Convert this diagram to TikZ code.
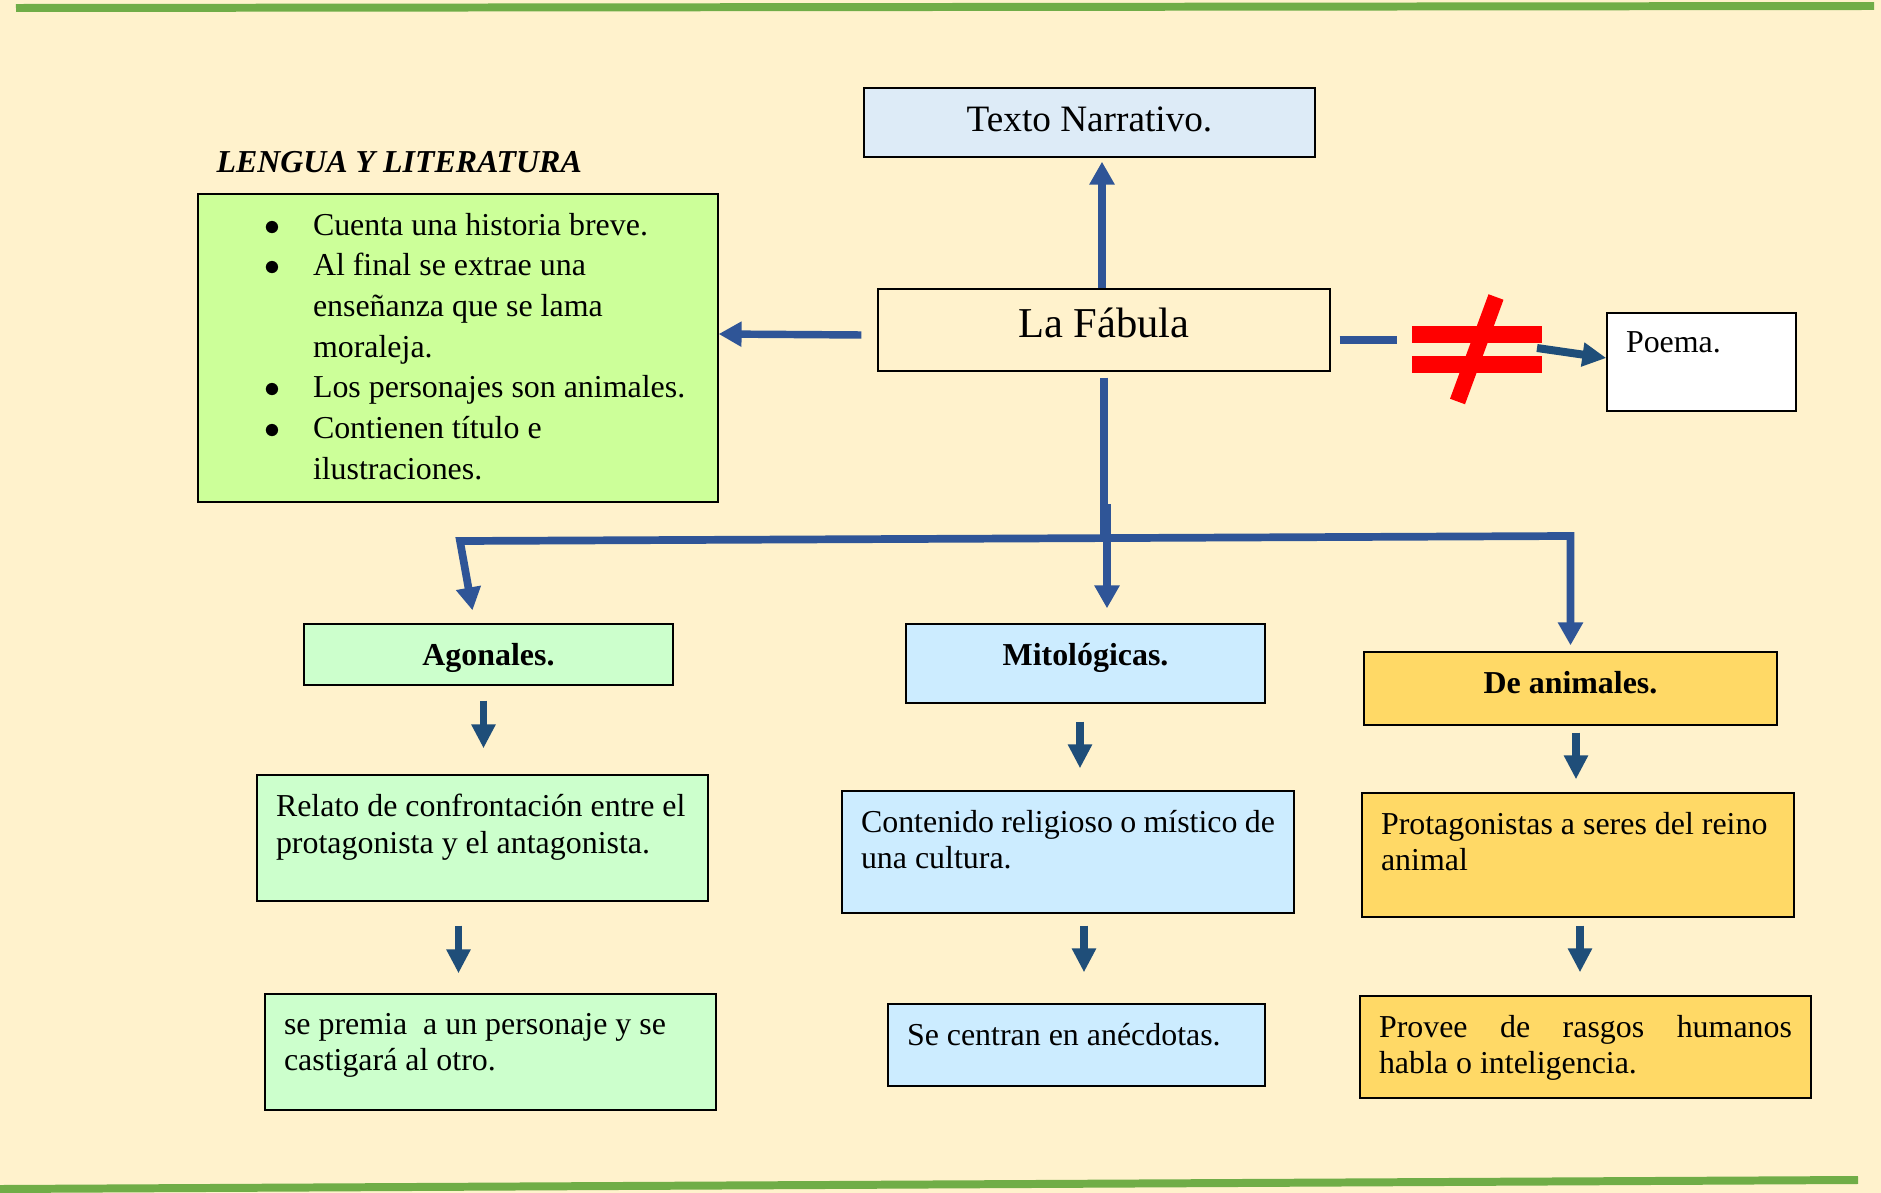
\documentclass[tikz,border=0pt]{standalone}
\usepackage{fontspec}
\setmainfont{Liberation Serif}
\usepackage{tikz}
\usetikzlibrary{arrows.meta}

\newlength{\pxu}
\setlength{\pxu}{0.376pt}
\newcommand{\caja}[3]{\parbox[c][#2\pxu][t]{#1\pxu}{#3}}
\newcommand{\vineta}{$\bullet$}

\definecolor{fondo}{HTML}{FFF2CC}
\definecolor{verdelinea}{HTML}{70AD47}
\definecolor{verdelista}{HTML}{CCFF99}
\definecolor{verdeclaro}{HTML}{CCFFCC}
\definecolor{celeste}{HTML}{CCECFF}
\definecolor{celestetit}{HTML}{DDEBF7}
\definecolor{amarillo}{HTML}{FFD966}
\definecolor{azul}{HTML}{2F5597}
\definecolor{azulosc}{HTML}{1F4E79}
\definecolor{rojo}{HTML}{FF0000}

\tikzset{
  caja/.style={draw=black, line width=0.6pt, inner sep=7.1pt},
  normal/.style={font=\fontsize{12}{13.8}\selectfont},
  negrita/.style={font=\fontsize{12}{13.8}\selectfont\bfseries},
  flecha/.style={draw=azul, line width=2.8pt, line join=miter, -{Triangle[width=9pt,length=8.6pt]}},
  flechados/.style={draw=azul, line width=2.9pt, line join=miter, {Triangle[width=9pt,length=8.6pt]}-{Triangle[width=9pt,length=8.6pt]}},
  flechaosc/.style={draw=azulosc, line width=3pt, -{Triangle[width=8.6pt,length=9pt]}},
}

\begin{document}
\begin{tikzpicture}[x=0.376pt, y=-0.376pt]
\useasboundingbox (0,0) rectangle (1881,1193);
\fill[fondo] (0,0) rectangle (1881,1193);
\draw[verdelinea, line width=3pt] (16,8) -- (1874,6);
\draw[verdelinea, line width=3pt] (0,1189) -- (1858,1180);

\node[anchor=west, inner sep=0pt, font=\fontsize{12}{13.8}\selectfont\bfseries\itshape] (materia) at (216,162.5) {LENGUA Y LITERATURA};

\node[caja, fill=celestetit, font=\fontsize{14}{16}\selectfont] (texto) at (1089.5,122.5) {\caja{413}{31}{\centering Texto Narrativo.}};
\node[caja, font=\fontsize{16}{18}\selectfont] (fabula) at (1104,330) {\caja{414}{44}{\centering La Fábula}};
\node[caja, fill=verdelista, font=\fontsize{12}{15.3}\selectfont] (lista) at (458,348) {\caja{482}{270}{\raggedright
  \begin{list}{\vineta}{\setlength{\leftmargin}{96\pxu}\setlength{\labelsep}{33\pxu}\setlength{\labelwidth}{20\pxu}\setlength{\topsep}{0pt}\setlength{\partopsep}{0pt}\setlength{\itemsep}{0pt}\setlength{\parsep}{0pt}}
  \item Cuenta una historia breve.
  \item Al final se extrae una\\ enseñanza que se lama\\ moraleja.
  \item Los personajes son animales.
  \item Contienen título e\\ ilustraciones.
  \end{list}}};
\node[caja, fill=white, normal] (poema) at (1701.5,362) {\caja{151}{60}{Poema.}};

\node[caja, fill=verdeclaro, negrita] (agon) at (488.5,654.5) {\caja{331}{23}{\centering Agonales.}};
\node[caja, fill=celeste, negrita] (mito) at (1085.5,663.5) {\caja{321}{41}{\centering Mitológicas.}};
\node[caja, fill=amarillo, negrita] (anim) at (1570.5,688.5) {\caja{375}{35}{\centering De animales.}};

\node[caja, fill=verdeclaro, normal] (relato) at (482.5,838) {\caja{413}{88}{Relato de confrontación entre el\\ protagonista y el antagonista.}};
\node[caja, fill=celeste, normal] (contenido) at (1068,852) {\caja{414}{84}{Contenido religioso o místico de\\ una cultura.}};
\node[caja, fill=amarillo, normal] (protag) at (1578,855) {\caja{394}{86}{Protagonistas a seres del reino\\ animal}};

\node[caja, fill=verdeclaro, normal] (premia) at (490.5,1052) {\caja{413}{78}{se premia~ a un personaje y se\\ castigará al otro.}};
\node[caja, fill=celeste, normal] (centran) at (1076.5,1045) {\caja{339}{44}{Se centran en anécdotas.}};
\node[caja, fill=amarillo, normal] (provee) at (1585.5,1047) {\caja{413}{64}{Provee \hfill de \hfill rasgos \hfill humanos\\ habla o inteligencia.}};

\draw[flecha] ([shift={(-16,5)}]fabula.west) -- ([shift={(0,-14)}]lista.east);
\draw[flecha] ([shift={(-2,0)}]fabula.north) -- ([shift={(12.5,4)}]texto.south);

\draw[azul, line width=3pt] ([shift={(9,10)}]fabula.east) -- ([shift={(66,10)}]fabula.east);
\fill[rojo] (1412,326) rectangle (1542,343);
\fill[rojo] (1412,356) rectangle (1542,373);
\draw[rojo, line width=6pt] (1496,297) -- (1457.5,401.5);
\coordinate (salida) at (1537,348);
\draw[flechaosc] (salida) -- ([shift={(0,-4)}]poema.west);

\coordinate (nudo) at (1104,539);
\coordinate (esqI) at (460,541);
\coordinate (esqD) at (1570.5,536);
\coordinate (medio) at (1107,504);
\draw[azul, line width=2.8pt] ([shift={(0,6)}]fabula.south) -- (nudo);
\draw[flechados] ([shift={(-16,-13)}]agon.north) -- (esqI) -- (esqD) -- ([shift={(0,-6)}]anim.north);
\draw[flecha] (medio) -- ([shift={(21.5,-15)}]mito.north);

\draw[flechaosc] ([shift={(-5,15)}]agon.south) -- ([shift={(1,-26)}]relato.north);
\draw[flechaosc] ([shift={(-24,24)}]relato.south) -- ([shift={(-32,-20)}]premia.north);
\draw[flechaosc] ([shift={(-5.5,18)}]mito.south) -- ([shift={(12,-22)}]contenido.north);
\draw[flechaosc] ([shift={(16,12)}]contenido.south) -- ([shift={(7.5,-31)}]centran.north);
\draw[flechaosc] ([shift={(5.5,7)}]anim.south) -- ([shift={(-2,-13)}]protag.north);
\draw[flechaosc] ([shift={(2,8)}]protag.south) -- ([shift={(-5.5,-23)}]provee.north);
\end{tikzpicture}
\end{document}
